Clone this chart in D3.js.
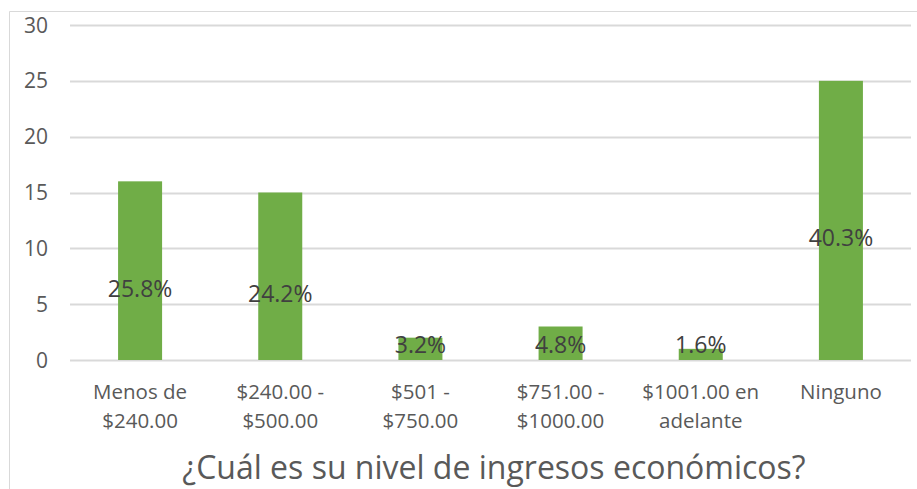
<!DOCTYPE html>
<html>
<head>
<meta charset="utf-8">
<script src="https://cdn.jsdelivr.net/npm/d3@7"></script>
<style>
  body { margin: 0; background: #fff; }
  svg { display: block; font-family: "Open Sans", "Noto Sans", sans-serif; }
</style>
</head>
<body>
<div id="plot"></div>
<script>
// data
var categories = [["Menos de", "$240.00"], ["$240.00 -", "$500.00"], ["$501 -", "$750.00"],
                  ["$751.00 -", "$1000.00"], ["$1001.00 en", "adelante"], ["Ninguno"]];
var values = [16, 15, 2, 3, 1, 25];
var pctLabels = ["25.8%", "24.2%", "3.2%", "4.8%", "1.6%", "40.3%"];
var yTicks = [0, 5, 10, 15, 20, 25, 30];
var title = "¿Cuál es su nivel de ingresos económicos?";

var W = 917, H = 489;
var plotL = 70, plotR = 911, plotT = 25, plotB = 360;

var svg = d3.select("#plot").append("svg")
    .attr("width", W)
    .attr("height", H);

// chart border (only left and top visible)
svg.append("path")
    .attr("d", "M9.5," + H + "V11.5H" + W)
    .attr("fill", "none")
    .attr("stroke", "#d9d9d9")
    .attr("stroke-width", 1);

var x = d3.scaleBand()
    .domain(d3.range(values.length))
    .range([plotL, plotR])
    .paddingInner(0.686)
    .paddingOuter(0.343);

var y = d3.scaleLinear()
    .domain([0, 30])
    .range([plotB, plotT]);

// gridlines
svg.append("g").selectAll("line")
    .data(yTicks)
    .enter().append("line")
    .attr("x1", plotL).attr("x2", plotR)
    .attr("y1", function(d){ return Math.round(y(d)) + 0.5; })
    .attr("y2", function(d){ return Math.round(y(d)) + 0.5; })
    .attr("stroke", "#d9d9d9")
    .attr("stroke-width", 2);

// y tick labels
svg.append("g").selectAll("text")
    .data(yTicks)
    .enter().append("text")
    .attr("x", 48)
    .attr("y", function(d){ return y(d); })
    .attr("dy", "0.36em")
    .attr("text-anchor", "end")
    .attr("fill", "#595959")
    .style("font-size", "21px")
    .text(function(d){ return d; });

// bars
svg.append("g").selectAll("rect")
    .data(values)
    .enter().append("rect")
    .attr("x", function(d, i){ return x(i); })
    .attr("width", x.bandwidth())
    .attr("y", function(d){ return y(d); })
    .attr("height", function(d){ return y(0) - y(d); })
    .attr("fill", "#70ad47");

// percentage labels
svg.append("g").selectAll("text")
    .data(values)
    .enter().append("text")
    .attr("x", function(d, i){ return x(i) + x.bandwidth() / 2; })
    .attr("y", function(d){ return Math.min(y(d / 2) + 26, y(0) - 7); })
    .attr("text-anchor", "middle")
    .attr("fill", "#404040")
    .style("font-size", "23px")
    .text(function(d, i){ return pctLabels[i]; });

// category labels
var cat = svg.append("g").selectAll("text")
    .data(categories)
    .enter().append("text")
    .attr("text-anchor", "middle")
    .attr("fill", "#595959")
    .style("font-size", "20.5px");
cat.selectAll("tspan")
    .data(function(d, i){ return d.map(function(s){ return {s: s, i: i}; }); })
    .enter().append("tspan")
    .attr("x", function(d){ return x(d.i) + x.bandwidth() / 2; })
    .attr("y", function(d, j){ return 399 + j * 29; })
    .text(function(d){ return d.s; });

// axis title
svg.append("text")
    .attr("x", 494)
    .attr("y", 479)
    .attr("text-anchor", "middle")
    .attr("fill", "#595959")
    .style("font-size", "32px")
    .text(title);
</script>
</body>
</html>
